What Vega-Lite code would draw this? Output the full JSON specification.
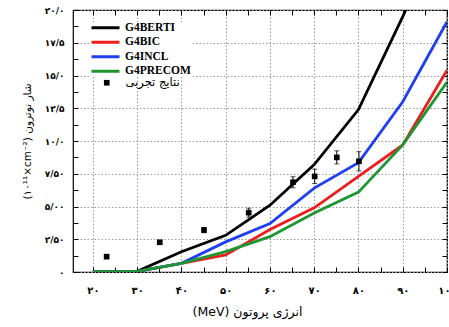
{
  "$schema": "https://vega.github.io/schema/vega-lite/v6.json",
  "width": 374,
  "height": 262,
  "autosize": "none",
  "padding": {"left": 73, "top": 10, "right": 2, "bottom": 55},
  "background": "white",
  "config": {
    "view": {"stroke": "black", "strokeWidth": 1.2},
    "axis": {"domain": false}
  },
  "datasets": {
    "sim": [
      {"model": "G4BERTI", "e": 20, "flux": 0},
      {"model": "G4BERTI", "e": 30, "flux": 0.05},
      {"model": "G4BERTI", "e": 40, "flux": 1.55},
      {"model": "G4BERTI", "e": 50, "flux": 2.8},
      {"model": "G4BERTI", "e": 60, "flux": 5.1},
      {"model": "G4BERTI", "e": 70, "flux": 8.2},
      {"model": "G4BERTI", "e": 80, "flux": 12.4},
      {"model": "G4BERTI", "e": 90, "flux": 19.5},
      {"model": "G4BERTI", "e": 100, "flux": 27},
      {"model": "G4BIC", "e": 20, "flux": 0},
      {"model": "G4BIC", "e": 30, "flux": 0.05},
      {"model": "G4BIC", "e": 40, "flux": 0.66},
      {"model": "G4BIC", "e": 50, "flux": 1.3},
      {"model": "G4BIC", "e": 60, "flux": 3.25},
      {"model": "G4BIC", "e": 70, "flux": 4.9},
      {"model": "G4BIC", "e": 80, "flux": 7.3},
      {"model": "G4BIC", "e": 90, "flux": 9.7},
      {"model": "G4BIC", "e": 100, "flux": 15.4},
      {"model": "G4INCL", "e": 20, "flux": 0},
      {"model": "G4INCL", "e": 30, "flux": 0.05},
      {"model": "G4INCL", "e": 40, "flux": 0.66},
      {"model": "G4INCL", "e": 50, "flux": 2.3},
      {"model": "G4INCL", "e": 60, "flux": 3.7},
      {"model": "G4INCL", "e": 70, "flux": 6.4},
      {"model": "G4INCL", "e": 80, "flux": 8.35},
      {"model": "G4INCL", "e": 90, "flux": 13.0},
      {"model": "G4INCL", "e": 100, "flux": 19.1},
      {"model": "G4PRECOM", "e": 20, "flux": 0},
      {"model": "G4PRECOM", "e": 30, "flux": 0.05},
      {"model": "G4PRECOM", "e": 40, "flux": 0.66},
      {"model": "G4PRECOM", "e": 50, "flux": 1.55},
      {"model": "G4PRECOM", "e": 60, "flux": 2.7},
      {"model": "G4PRECOM", "e": 70, "flux": 4.5},
      {"model": "G4PRECOM", "e": 80, "flux": 6.1},
      {"model": "G4PRECOM", "e": 90, "flux": 9.7},
      {"model": "G4PRECOM", "e": 100, "flux": 14.5}
    ],
    "exp": [
      {"label": "نتایج تجربی", "e": 23.1, "flux": 1.17, "lo": 1.09, "hi": 1.25},
      {"label": "نتایج تجربی", "e": 35.1, "flux": 2.27, "lo": 2.17, "hi": 2.37},
      {"label": "نتایج تجربی", "e": 45.1, "flux": 3.2, "lo": 3.0, "hi": 3.4},
      {"label": "نتایج تجربی", "e": 55.2, "flux": 4.53, "lo": 4.19, "hi": 4.87},
      {"label": "نتایج تجربی", "e": 65.2, "flux": 6.85, "lo": 6.43, "hi": 7.27},
      {"label": "نتایج تجربی", "e": 70.1, "flux": 7.3, "lo": 6.75, "hi": 7.85},
      {"label": "نتایج تجربی", "e": 75.1, "flux": 8.75, "lo": 8.25, "hi": 9.25},
      {"label": "نتایج تجربی", "e": 80.1, "flux": 8.45, "lo": 7.72, "hi": 9.18}
    ]
  },
  "resolve": {"axis": {"x": "independent", "y": "independent"}},
  "layer": [
    {
      "data": {"name": "sim"},
      "mark": {"type": "line", "strokeWidth": 2.8, "clip": true},
      "encoding": {
        "x": {
          "field": "e", "type": "quantitative",
          "scale": {"domain": [15.5, 100], "nice": false, "zero": false},
          "axis": {
            "orient": "bottom",
            "title": "(MeV) انرژی پروتون",
            "titleFont": "DejaVu Sans", "titleFontSize": 12.5, "titleFontWeight": "normal",
            "titlePadding": 10, "titleColor": "black", "titleX": 174,
            "values": [20, 25, 30, 35, 40, 45, 50, 55, 60, 65, 70, 75, 80, 85, 90, 95, 100],
            "labelExpr": "datum.value == 20 ? '۲۰' : datum.value == 30 ? '۳۰' : datum.value == 40 ? '۴۰' : datum.value == 50 ? '۵۰' : datum.value == 60 ? '۶۰' : datum.value == 70 ? '۷۰' : datum.value == 80 ? '۸۰' : datum.value == 90 ? '۹۰' : datum.value == 100 ? '۱۰۰' : ''",
            "labelFont": "DejaVu Sans", "labelFontSize": 10, "labelFontWeight": "bold", "labelColor": "black",
            "labelPadding": 18, "labelFlush": false, "labelOverlap": false,
            "tickSize": -5, "tickColor": "black", "tickWidth": 1,
            "grid": true, "gridColor": "#9a9a9a", "gridDash": [1.5, 2], "gridWidth": 1,
            "gridOpacity": {"condition": {"test": "datum.value % 10 !== 0", "value": 0}, "value": 1}
          }
        },
        "y": {
          "field": "flux", "type": "quantitative",
          "scale": {"domain": [0, 20], "nice": false},
          "axis": {
            "orient": "left",
            "title": "(۱۰¹¹×cm⁻²) شار نوترون",
            "titleFont": "DejaVu Sans", "titleFontSize": 10.5, "titleFontWeight": "normal",
            "titlePadding": 12, "titleColor": "black",
            "values": [0, 1.25, 2.5, 3.75, 5, 6.25, 7.5, 8.75, 10, 11.25, 12.5, 13.75, 15, 16.25, 17.5, 18.75, 20],
            "labelExpr": "datum.value == 0 ? '۰' : datum.value == 2.5 ? '۲/۵۰' : datum.value == 5 ? '۵/۰۰' : datum.value == 7.5 ? '۷/۵۰' : datum.value == 10 ? '۱۰/۰' : datum.value == 12.5 ? '۱۲/۵' : datum.value == 15 ? '۱۵/۰' : datum.value == 17.5 ? '۱۷/۵' : datum.value == 20 ? '۲۰/۰' : ''",
            "labelFont": "DejaVu Sans", "labelFontSize": 9, "labelFontWeight": "bold", "labelColor": "black",
            "labelPadding": 14, "labelFlush": false, "labelOverlap": false,
            "tickSize": -5, "tickColor": "black", "tickWidth": 1,
            "grid": true, "gridColor": "#9a9a9a", "gridDash": [1.5, 2], "gridWidth": 1,
            "gridOpacity": {"condition": {"test": "datum.value % 2.5 !== 0", "value": 0}, "value": 1}
          }
        },
        "color": {
          "field": "model", "type": "nominal",
          "scale": {"domain": ["G4BERTI", "G4BIC", "G4INCL", "G4PRECOM"], "range": ["#000000", "#ee1d1d", "#1f3ff2", "#1e9632"]},
          "legend": {
            "orient": "none", "legendX": 17, "legendY": 12, "title": null,
            "symbolType": "stroke", "symbolSize": 784, "symbolStrokeWidth": 3,
            "clipHeight": 11.3, "rowPadding": 1.5, "labelOffset": 4,
            "labelFont": "Liberation Serif", "labelFontSize": 11.5, "labelFontWeight": "bold", "labelColor": "black",
            "fillColor": "white", "padding": 0
          }
        }
      }
    },
    {
      "data": {"name": "exp"},
      "mark": {"type": "errorbar", "ticks": {"size": 5, "color": "black"}, "color": "black", "thickness": 1},
      "encoding": {
        "x": {"field": "e", "type": "quantitative", "axis": null},
        "y": {"field": "lo", "type": "quantitative", "axis": null},
        "y2": {"field": "hi"}
      }
    },
    {
      "data": {"name": "exp"},
      "mark": {"type": "point", "filled": true, "color": "black", "opacity": 1, "size": 32},
      "encoding": {
        "x": {
          "field": "e", "type": "quantitative",
          "axis": {"orient": "top", "title": null, "labels": false, "grid": false,
            "values": [20, 25, 30, 35, 40, 45, 50, 55, 60, 65, 70, 75, 80, 85, 90, 95, 100],
            "tickSize": -5, "tickColor": "black"}
        },
        "y": {
          "field": "flux", "type": "quantitative",
          "axis": {"orient": "right", "title": null, "labels": false, "grid": false,
            "values": [0, 1.25, 2.5, 3.75, 5, 6.25, 7.5, 8.75, 10, 11.25, 12.5, 13.75, 15, 16.25, 17.5, 18.75, 20],
            "tickSize": -5, "tickColor": "black"}
        },
        "shape": {
          "field": "label", "type": "nominal",
          "scale": {"range": ["square"]},
          "legend": {
            "orient": "none", "legendX": 28, "legendY": 67, "title": null,
            "symbolSize": 32, "symbolFillColor": "black", "symbolStrokeColor": "black",
            "labelOffset": 13, "labelFont": "DejaVu Sans", "labelFontSize": 11.5, "labelColor": "black",
            "padding": 0
          }
        }
      }
    }
  ]
}
